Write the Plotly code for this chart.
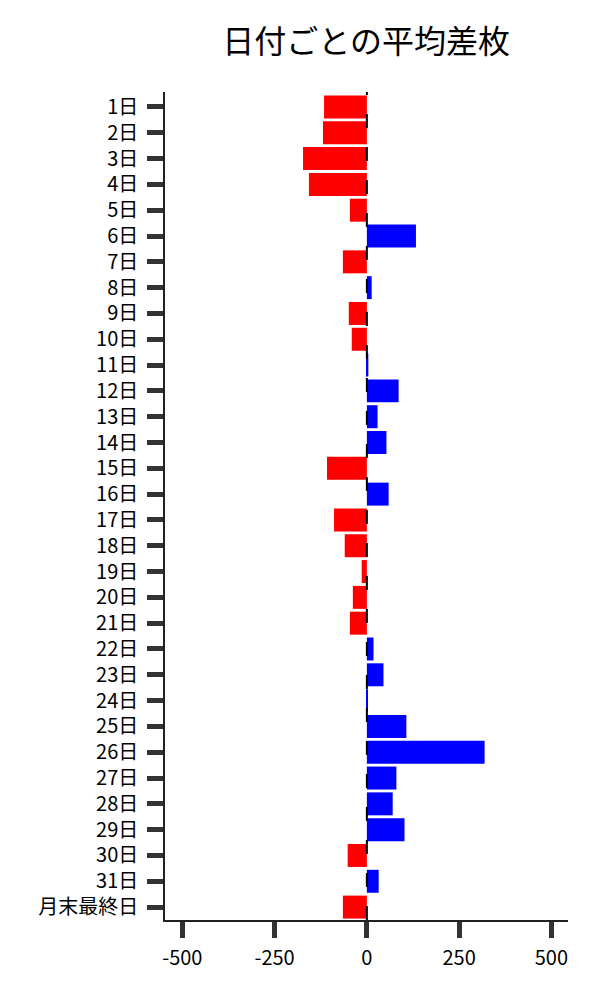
import plotly.graph_objects as go

categories = [f"{i}日" for i in range(1, 32)] + ["月末最終日"]
values = [-116, -119, -173, -157, -46, 133, -65, 13, -49, -41,
          4, 86, 29, 53, -108, 59, -89, -60, -14, -38,
          -46, 18, 45, 2, 107, 319, 80, 70, 102, -52,
          32, -65]
x_ticks = [-500, -250, 0, 250, 500]

colors = ["#0000ff" if v >= 0 else "#ff0000" for v in values]

fig = go.Figure(go.Bar(
    x=values, y=categories, orientation="h",
    marker=dict(color=colors, line=dict(width=0)),
))

fig.add_shape(type="line", xref="x", yref="paper", x0=0, x1=0, y0=0, y1=1,
              line=dict(color="black", width=2, dash="14px,19px"), layer="above")

font_family = "Noto Sans CJK JP"
fig.update_layout(
    width=600, height=1000,
    margin=dict(l=157, r=40, t=84, b=88, autoexpand=False),
    plot_bgcolor="white", paper_bgcolor="white",
    font=dict(family=font_family, size=20, color="black"),
    title=dict(text="日付ごとの平均差枚", x=0.597, xanchor="center", y=0.966,
               yanchor="middle", font=dict(size=32, family=font_family, color="black")),
    bargap=0.11,
    showlegend=False,
)
fig.update_xaxes(
    range=[-547, 545], tickvals=x_ticks, ticktext=[str(v) for v in x_ticks],
    showgrid=False, zeroline=False, showline=True, linecolor="#222", linewidth=1.5,
    ticks="outside", ticklen=16, tickwidth=5, tickcolor="#333",
    tickfont=dict(size=20), ticklabelstandoff=3,
)
fig.update_yaxes(
    categoryorder="array", categoryarray=categories,
    range=[31.5, -0.58],
    showgrid=False, zeroline=False, showline=True, linecolor="#222", linewidth=1.5,
    ticks="outside", ticklen=16, tickwidth=5, tickcolor="#333",
    tickfont=dict(size=20), ticklabelstandoff=5,
)

fig.write_html("out.html")
